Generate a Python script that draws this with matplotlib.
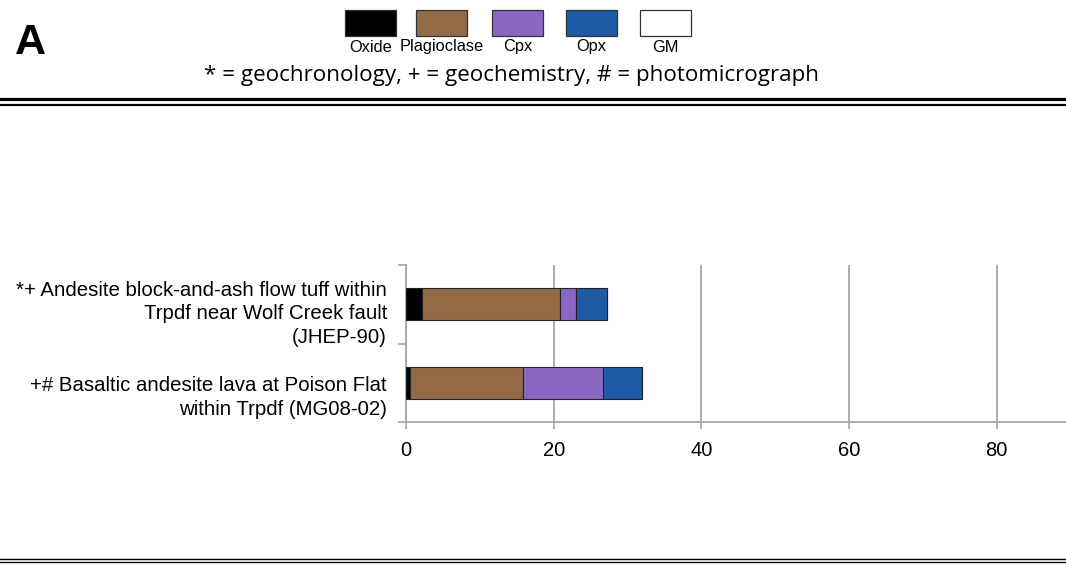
import matplotlib.pyplot as plt
from matplotlib.patches import Rectangle
from matplotlib.lines import Line2D

plt.rcParams['font.family'] = ['Liberation Sans', 'DejaVu Sans']

minerals = ["Oxide", "Plagioclase", "Cpx", "Opx", "GM"]
colors = ["#000000", "#936a46", "#8b67c4", "#1f5aa6", "#ffffff"]
samples = [
    "*+ Andesite block-and-ash flow tuff within\nTrpdf near Wolf Creek fault\n(JHEP-90)",
    "+# Basaltic andesite lava at Poison Flat\nwithin Trpdf (MG08-02)",
]
oxide = [2.2, 0.6]
plag = [18.7, 15.3]
cpx = [2.1, 10.8]
opx = [4.2, 5.3]
gm = [0, 0]
xticks = [0, 20, 40, 60, 80]

fig = plt.figure(figsize=(10.66, 5.66), dpi=100)
ax = fig.add_axes([0.3809, 0.2544, 0.6191, 0.2774])

grey = "#a6a6a6"
ypos = [0.5, 1.5]
left = [0, 0]
for vals, c in zip([oxide, plag, cpx, opx, gm], colors):
    ax.barh(ypos, vals, left=left, height=0.41, color=c, edgecolor="#222222", linewidth=0.8, zorder=3)
    left = [a + b for a, b in zip(left, vals)]

ax.set_xlim(0, 89.4)
ax.set_ylim(2, 0)
ax.set_xticks(xticks)
ax.set_xticklabels([str(t) for t in xticks], fontsize=14.5)
ax.set_yticks([0, 1, 2])
ax.set_yticklabels([])
ax.tick_params(axis="y", length=6, width=1.2, color=grey)
ax.tick_params(axis="x", length=5, width=1.2, color=grey, pad=9)
ax.grid(axis="x", color=grey, linewidth=1.3, zorder=0)
for s in ["top", "right"]:
    ax.spines[s].set_visible(False)
for s in ["left", "bottom"]:
    ax.spines[s].set_color(grey)
    ax.spines[s].set_linewidth(1.3)

# labels sit a little below the bar centres
for y, off, lab in zip(ypos, [0.12, 0.185], samples):
    ax.text(-0.029, y + off, lab, transform=ax.get_yaxis_transform(), ha="right", va="center",
            fontsize=14.7, linespacing=1.3)

# legend boxes along the top
box_x = [345, 416, 492, 566, 640]
W, H = 1066, 566
for bx, name, c in zip(box_x, minerals, colors):
    fig.add_artist(Rectangle((bx / W, 1 - 36 / H), 51 / W, 26 / H, transform=fig.transFigure,
                             facecolor=c, edgecolor="#333333", linewidth=0.9))
    fig.text((bx + 25.5) / W, 1 - 47 / H, name, ha="center", va="center", fontsize=11.8)

fig.text(512 / W, 1 - 75 / H, "* = geochronology, + = geochemistry, # = photomicrograph",
         ha="center", va="center", fontsize=16.1, family=["Open Sans", "DejaVu Sans"])
fig.text(15 / W, 1 - 43 / H, "A", ha="left", va="center", fontsize=31, fontweight="bold",
         family=["Liberation Sans", "DejaVu Sans"])

for yy, lw in [(99, 2.3), (105, 1.6), (559, 1.0), (562, 1.0)]:
    fig.add_artist(Line2D([0, 1], [1 - yy / H, 1 - yy / H], transform=fig.transFigure,
                          color="black", linewidth=lw))

fig.savefig("out.png", dpi=100)
